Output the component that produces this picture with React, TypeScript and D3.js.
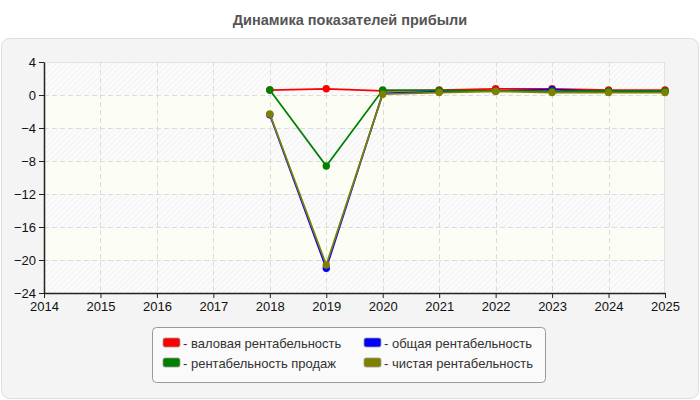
import * as d3 from "d3";
import React, { useEffect, useRef } from "react";

const years = [2018, 2019, 2020, 2021, 2022, 2023, 2024, 2025];
const grossMargin = [0.6, 0.75, 0.5, 0.6, 0.75, 0.75, 0.6, 0.6];
const totalMargin = [-2.4, -21.0, 0.2, 0.4, 0.5, 0.65, 0.4, 0.4];
const salesMargin = [0.6, -8.6, 0.6, 0.55, 0.5, 0.45, 0.5, 0.5];
const netMargin = [-2.3, -20.6, 0.1, 0.3, 0.45, 0.3, 0.3, 0.3];
const yTicks = [4, 0, -4, -8, -12, -16, -20, -24];
const xTicks = d3.range(2014, 2026);

const series = [
  { name: "валовая рентабельность", color: "#ff0000", values: grossMargin },
  { name: "общая рентабельность", color: "#0000ff", values: totalMargin },
  { name: "рентабельность продаж", color: "#008000", values: salesMargin },
  { name: "чистая рентабельность", color: "#808000", values: netMargin },
];

const App = () => {
  const node = useRef<SVGSVGElement>(null);

  useEffect(() => {
    const svg = d3.select(node.current);
    svg.selectAll("*").remove();

    const left = 44, right = 665, top = 62, bottom = 293;
    const x = d3.scaleLinear().domain([2014, 2025]).range([left, right]);
    const y = d3.scaleLinear().domain([-24, 4]).range([bottom, top]);

    const defs = svg.append("defs");
    const pat = defs
      .append("pattern")
      .attr("id", "hatch")
      .attr("width", 4)
      .attr("height", 4)
      .attr("patternUnits", "userSpaceOnUse")
      .attr("patternTransform", "rotate(45)");
    pat.append("rect").attr("width", 4).attr("height", 4).attr("fill", "#fbfbfb");
    pat.append("line").attr("x1", 0).attr("y1", 0).attr("x2", 0).attr("y2", 4)
      .attr("stroke", "#ececec").attr("stroke-width", 1.2);

    svg.append("text")
      .attr("x", 350).attr("y", 25)
      .attr("text-anchor", "middle")
      .attr("font-family", "Liberation Sans, Arial, sans-serif")
      .attr("font-weight", "bold")
      .attr("font-size", 14.5)
      .attr("fill", "#555")
      .text("Динамика показателей прибыли");

    svg.append("rect")
      .attr("x", 1.5).attr("y", 38.5).attr("width", 697).attr("height", 360)
      .attr("rx", 8)
      .attr("fill", "#f4f4f4").attr("stroke", "#dedede");

    // bands
    const bands = d3.range(0, 7);
    svg.append("g").selectAll("rect").data(bands).join("rect")
      .attr("x", left)
      .attr("y", (d) => y(4 - d * 4))
      .attr("width", right - left)
      .attr("height", (d) => y(-d * 4) - y(4 - d * 4))
      .attr("fill", (d) => (d % 2 === 0 ? "url(#hatch)" : "#fcfdf5"));

    svg.append("line")
      .attr("x1", left).attr("x2", right).attr("y1", top + 0.5).attr("y2", top + 0.5)
      .attr("stroke", "#e2e2e2");
    svg.append("line")
      .attr("x1", right - 0.5).attr("x2", right - 0.5).attr("y1", top).attr("y2", bottom)
      .attr("stroke", "#e2e2e2");

    const grid = svg.append("g")
      .attr("stroke", "#dcdcdc").attr("stroke-dasharray", "5,3");
    grid.selectAll("line.h").data(yTicks.slice(1, -1)).join("line")
      .attr("class", "h")
      .attr("x1", left).attr("x2", right)
      .attr("y1", (d) => Math.round(y(d)) + 0.5).attr("y2", (d) => Math.round(y(d)) + 0.5);
    grid.selectAll("line.v").data(xTicks.slice(1, -1)).join("line")
      .attr("class", "v")
      .attr("y1", top).attr("y2", bottom)
      .attr("x1", (d) => Math.round(x(d)) + 0.5).attr("x2", (d) => Math.round(x(d)) + 0.5);

    const yAxis = svg.append("g")
      .attr("transform", `translate(${left},0)`)
      .call(d3.axisLeft(y).tickValues(yTicks).tickSize(5).tickSizeOuter(0).tickFormat(d3.format("d")));
    const xAxis = svg.append("g")
      .attr("transform", `translate(0,${bottom})`)
      .call(d3.axisBottom(x).tickValues(xTicks).tickSize(5).tickSizeOuter(0).tickFormat(d3.format("d")));
    [yAxis, xAxis].forEach((a) => {
      a.selectAll("text")
        .attr("font-family", "Liberation Sans, Arial, sans-serif")
        .attr("font-size", 13)
        .attr("fill", "#111");
      a.selectAll("line").attr("stroke", "#222");
      a.select(".domain").attr("stroke", "#222").attr("stroke-width", 1.5);
    });
    yAxis.selectAll("text").attr("x", -8);
    xAxis.selectAll("text").attr("y", 9);

    const line = d3.line<number>()
      .x((_, i) => x(years[i]))
      .y((d) => y(d));

    series.forEach((s) => {
      const g = svg.append("g");
      g.append("path")
        .datum(s.values)
        .attr("fill", "none")
        .attr("stroke", s.color)
        .attr("stroke-width", 1.8)
        .attr("d", line);
      g.selectAll("circle").data(s.values).join("circle")
        .attr("cx", (_, i) => x(years[i]))
        .attr("cy", (d) => y(d))
        .attr("r", 3.7)
        .attr("fill", s.color);
    });

    // legend
    const lg = svg.append("g");
    lg.append("rect")
      .attr("x", 152.5).attr("y", 327.5).attr("width", 393).attr("height", 55)
      .attr("rx", 4)
      .attr("fill", "#fafafa").attr("stroke", "#999");
    series.forEach((s, i) => {
      const col = i === 0 || i === 2 ? 0 : 1;
      const row = i < 2 ? 0 : 1;
      const gx = 163 + col * 201;
      const gy = 343 + row * 20;
      lg.append("rect")
        .attr("x", gx).attr("y", gy - 5).attr("width", 17).attr("height", 9)
        .attr("rx", 2)
        .attr("fill", s.color).attr("stroke", "#999").attr("stroke-width", 0.8);
      lg.append("text")
        .attr("x", gx + 20).attr("y", gy + 4.5)
        .attr("font-family", "Liberation Sans, Arial, sans-serif")
        .attr("font-size", 13)
        .attr("fill", "#333")
        .text("- " + s.name);
    });
  }, []);

  return (
    <div style={{ position: "absolute", left: 0, top: 0 }}>
      <svg ref={node} width={700} height={400} style={{ display: "block" }} />
    </div>
  );
};

export default App;
